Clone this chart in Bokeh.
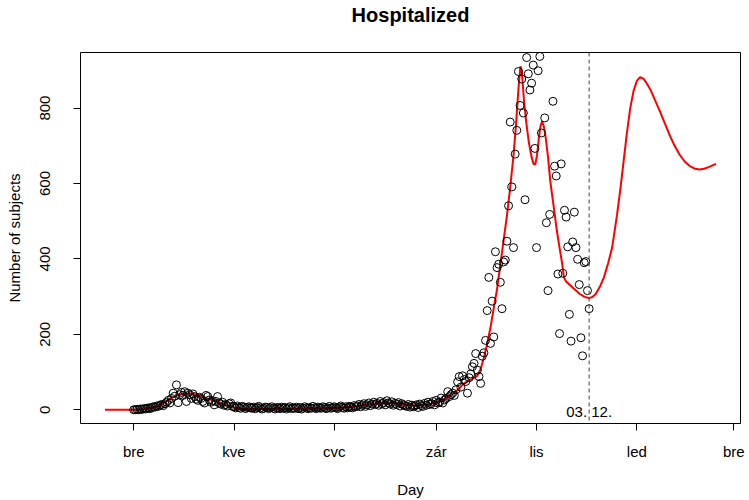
import numpy as np
import pandas as pd
from bokeh.plotting import figure
from bokeh.models import Range1d, FixedTicker, Span, Label, Title
from bokeh.embed import file_html
from bokeh.resources import INLINE

# ---------------- data ----------------
start_date = "2020-03-01"
# daily observed values, one per day from start_date to 2020-12-03
hospitalized = [
    0, 0, 1, 0, 2, 1, 3, 2, 4, 5,
    3, 6, 8, 7, 10, 9, 12, 14, 11, 16,
    20, 25, 18, 30, 44, 36, 66, 19, 40, 46,
    38, 48, 22, 44, 40, 30, 42, 35, 28, 25,
    33, 30, 22, 18, 38, 35, 26, 20, 24, 13,
    22, 35, 18, 15, 20, 12, 14, 10, 16, 18,
    9, 8, 5, 10, 6, 4, 9, 7, 3, 6,
    8, 5, 4, 7, 3, 6, 9, 5, 2, 4,
    7, 6, 3, 5, 8, 4, 2, 6, 5, 3,
    7, 4, 6, 2, 5, 8, 3, 5, 4, 7,
    3, 6, 2, 4, 8, 5, 3, 6, 4, 9,
    5, 3, 7, 5, 4, 8, 6, 3, 5, 9,
    4, 6, 8, 5, 3, 7, 10, 6, 4, 8,
    5, 9, 7, 5, 11, 8, 10, 14, 8, 12,
    16, 9, 13, 18, 11, 15, 20, 14, 17, 12,
    22, 16, 19, 13, 24, 18, 15, 21, 12, 17,
    14, 19, 10, 16, 13, 11, 9, 14, 7, 12,
    8, 10, 13, 6, 15, 11, 9, 17, 12, 20,
    14, 16, 22, 13, 25, 18, 20, 31, 18, 26,
    30, 48, 35, 40, 44, 38, 53, 74, 88, 60,
    90, 80, 75, 44, 85, 95, 114, 123, 149, 105,
    88, 70, 142, 151, 184, 263, 351, 176, 288, 193,
    419, 377, 386, 338, 268, 392, 397, 447, 541, 763,
    591, 430, 678, 741, 897, 807, 877, 787, 557, 934,
    891, 848, 866, 914, 693, 430, 899, 937, 734, float("nan"),
    774, 496, 316, 518, float("nan"), 818, 646, 620, 360, 202,
    652, 362, 529, 511, 432, 253, 182, 445, 524, 430,
    399, 332, 191, 143, 390, 393, 316, 268,
]

# smoothed fit + forecast (days since start_date)
fit_days = [-17.5, -10, -4, 0, 4, 8, 12, 16, 19, 23, 27, 31, 35, 39, 43, 48, 53, 57, 61, 66,
            72, 80, 90, 100, 110, 120, 128, 135, 142, 149, 156, 162, 168, 173, 178, 183, 188,
            193, 197, 200, 203, 206, 209, 211, 213, 215, 217, 219, 221, 223, 225, 227, 229,
            231, 232.5, 234, 235.2, 236, 237.3, 238.8, 240.3, 242, 243.2, 244.2, 245.3, 246.4,
            247.4, 248.4, 249.4, 250.4, 252, 253.4, 255.4, 257.4, 259, 260.5, 261.7, 263, 264.8,
            268, 271.3, 274, 276.8, 279, 281, 283.5, 286, 288.5, 291, 294, 296, 298, 300, 302,
            304, 306, 308, 310, 312, 314.5, 317, 320, 323, 326, 329, 332, 335, 338, 341, 344,
            347, 350, 354.2]
fit_values = [0, 0, 0, 0, 1, 3, 6, 12, 20, 31, 39, 43, 43, 39, 33, 25, 17, 11, 6, 3,
              2, 2, 2, 2, 3, 4, 6, 9, 14, 18, 19, 16, 12, 11, 13, 18, 26,
              38, 52, 66, 76, 82, 90, 108, 138, 175, 218, 270, 320, 385, 450, 515, 590,
              675, 755, 850, 911, 900, 824, 760, 710, 670, 652, 650, 675, 719,
              752, 765, 752, 728, 670, 605, 540, 474, 430, 390, 351, 340, 333,
              320, 307, 300, 296, 299, 307, 326, 351, 388, 430, 518, 585, 660, 735, 800,
              845, 872, 882, 878, 866, 847, 822, 792, 760, 728, 700, 677, 659, 647, 640, 637,
              639, 644, 652]

tick_dates = ["2020-03-01", "2020-05-01", "2020-07-01", "2020-09-01",
              "2020-11-01", "2021-01-01", "2021-03-01"]
tick_labels = ["bre", "kve", "cvc", "zár", "lis", "led", "bre"]
y_ticks = [0, 200, 400, 600, 800]
cutoff_date = "2020-12-03"
cutoff_label = "03. 12."
title_text = "Hospitalized"

# ---------------- derived ----------------
start = pd.Timestamp(start_date)
x_obs = np.arange(len(hospitalized))
tick_pos = [(pd.Timestamp(d) - start).days for d in tick_dates]
cutoff = (pd.Timestamp(cutoff_date) - start).days

xmin, xmax = min(fit_days), max(fit_days)
xpad = 0.04 * (xmax - xmin)
ymin, ymax = min(fit_values), max(fit_values)
ypad = 0.04 * (ymax - ymin)
x0, x1 = xmin - xpad, xmax + xpad
y0, y1 = ymin - ypad, ymax + ypad

FONT = "Liberation Sans"

p = figure(width=749, height=500, output_backend="svg", toolbar_location=None,
           x_range=Range1d(x0, x1), y_range=Range1d(y0, y1),
           min_border_left=80, min_border_right=9,
           min_border_top=50, min_border_bottom=76,
           x_axis_label="Day", y_axis_label="Number of subjects", title=None)

# spacer (inner) + title (outer) in the top border
p.add_layout(Title(text=" ", text_font_size="1px", standoff=23), "above")
p.add_layout(Title(text=title_text, align="center", text_font=FONT,
                   text_font_size="20px", text_font_style="bold",
                   text_color="black", standoff=2), "above")

p.xgrid.visible = False
p.ygrid.visible = False
p.outline_line_color = "black"
p.outline_line_width = 1
p.background_fill_color = "white"
p.border_fill_color = "white"

for ax in (p.xaxis[0], p.yaxis[0]):
    ax.axis_line_color = None
    ax.major_tick_line_color = "black"
    ax.major_tick_out = 7
    ax.major_tick_in = 0
    ax.minor_tick_line_color = None
    ax.major_label_text_font = FONT
    ax.major_label_text_font_size = "15px"
    ax.major_label_text_color = "black"
    ax.axis_label_text_font = FONT
    ax.axis_label_text_font_size = "15px"
    ax.axis_label_text_font_style = "normal"
    ax.axis_label_text_color = "black"

p.xaxis.ticker = FixedTicker(ticks=tick_pos)
p.xaxis.major_label_overrides = {pos: lab for pos, lab in zip(tick_pos, tick_labels)}
p.xaxis.major_label_standoff = 12
p.xaxis.axis_label_standoff = 18

p.yaxis.ticker = FixedTicker(ticks=y_ticks)
p.yaxis.major_label_orientation = "vertical"
p.yaxis.major_label_standoff = 23
p.yaxis.axis_label_standoff = 15

p.line(fit_days, fit_values, line_color="red", line_width=2)
p.scatter(x_obs, hospitalized, marker="circle", size=8, fill_color=None,
          line_color="black", line_width=1)

p.add_layout(Span(location=cutoff, dimension="height", line_color="#444444",
                  line_width=1, line_dash="4 3"))
p.add_layout(Label(x=cutoff, y=-5, text=cutoff_label, text_align="center",
                   text_baseline="middle", text_font=FONT, text_font_size="15px",
                   text_color="black"))

open("out.html", "w").write(file_html(p, INLINE))
